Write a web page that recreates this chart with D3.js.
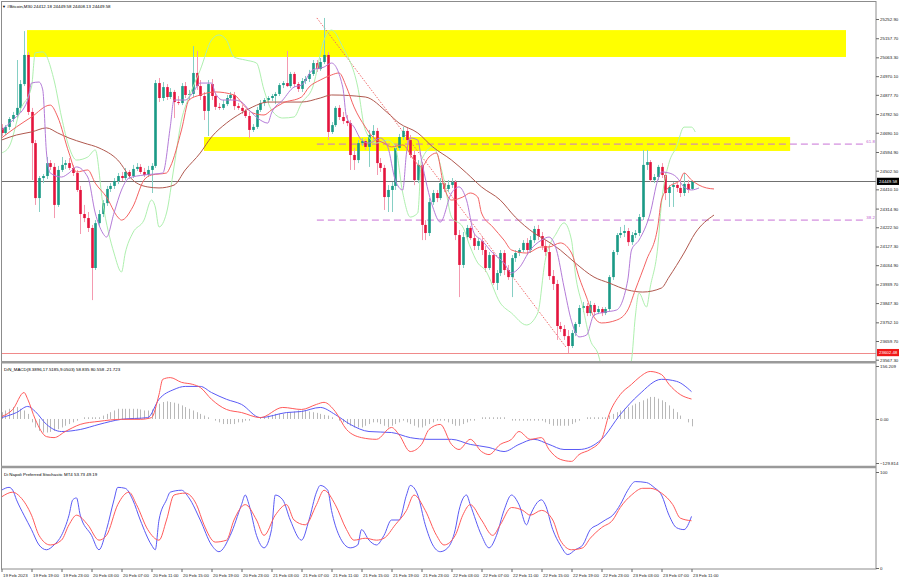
<!DOCTYPE html>
<html><head><meta charset="utf-8">
<script src="https://cdn.jsdelivr.net/npm/d3@7"></script>
<style>
body{margin:0;background:#fff}
svg{display:block}
text{font-family:"Liberation Sans",Arial,sans-serif}
</style>
</head><body>
<svg id="c" width="900" height="585"></svg>
<script>
// ---------------- DATA ----------------
const title = "#Bitcoin,M30  24412.18 24449.58 24408.13 24449.58";
const macdTitle = "DiN_MACD(8.3896,17.5185,9.0503) 58.835 80.558 -21.723";
const stochTitle = "Di Napoli Preferred Stochastic MT4 53.73 49.19";

const opens = [24714,24689,24719,24758,24778,24813,24931,25075,24793,24639,
24367,24466,24476,24540,24521,24333,24506,24531,24540,24516,
24491,24407,24288,24268,24219,24021,24243,24288,24342,24412,
24427,24451,24476,24466,24496,24476,24511,24521,24496,24481,
24506,24526,24936,24862,24916,24867,24892,24842,24837,24921,
24877,24882,24986,24921,24872,24798,24931,24872,24818,24813,
24832,24862,24877,24822,24813,24798,24773,24704,24719,24803,
24837,24852,24862,24872,24882,24926,24936,24921,24981,24931,
24907,24946,24956,24981,25035,25005,25040,25075,24694,24728,
24813,24768,24748,24738,24580,24555,24639,24649,24620,24679,
24699,24540,24516,24372,24407,24427,24615,24669,24699,24654,
24580,24456,24531,24234,24194,24347,24392,24367,24441,24412,
24432,24446,24184,24036,24174,24219,24169,24130,24154,24110,
24021,24085,23947,23996,24095,24011,23976,24070,24095,24110,
24145,24110,24159,24214,24179,24130,24100,23981,23942,23734,
23719,23684,23635,23699,23744,23823,23833,23798,23838,23803,
23818,23798,23818,23976,24100,24184,24194,24204,24149,24184,
24194,24273,24531,24545,24456,24471,24521,24481,24392,24422,
24432,24417,24392,24437,24412.18];
const highs = [24733,24728,24768,24793,25050,24951,25193,25090,24813,24654,
24476,24486,24570,24555,24540,24526,24570,24555,24565,24531,
24506,24427,24333,24298,24234,24258,24308,24357,24427,24441,
24466,24491,24496,24516,24506,24531,24540,24535,24516,24526,
24540,24951,24961,24941,24931,24911,24902,24872,24936,24941,
24902,25119,25095,24951,24892,24951,24956,24887,24837,24852,
24877,24892,24892,24837,24827,24808,24793,24733,24818,24852,
24862,24872,24882,24892,24936,24946,25095,24991,24991,24941,
24961,24971,25001,25050,25050,25060,25258,25090,24743,24822,
24827,24793,24778,24753,24615,24654,24664,24659,24704,24728,
24714,24565,24531,24431,24446,24630,24684,24719,24714,24679,
24605,24555,24545,24258,24367,24407,24407,24466,24456,24456,
24466,24456,24209,24199,24234,24229,24189,24169,24174,24130,
24100,24100,24011,24110,24110,24036,24085,24110,24120,24159,
24169,24179,24229,24234,24199,24159,24135,24011,23962,23754,
23739,23714,23714,23754,23838,23853,23848,23858,23848,23833,
23828,23828,23986,24110,24194,24224,24234,24219,24199,24209,
24288,24605,24605,24555,24486,24531,24540,24496,24432,24446,
24441,24456,24491,24456,24449.58];
const lows = [24674,24679,24704,24743,24763,24793,24921,24778,24456,24333,
24298,24441,24461,24506,24268,24323,24496,24511,24506,24476,
24397,24189,24248,24199,23862,24011,24229,24273,24328,24397,
24412,24436,24451,24456,24461,24466,24501,24486,24471,24471,
24392,24516,24842,24847,24852,24857,24763,24827,24827,24862,
24852,24867,24902,24852,24753,24674,24852,24803,24803,24803,
24822,24852,24803,24803,24783,24763,24664,24694,24709,24793,
24822,24837,24847,24832,24872,24911,24916,24911,24916,24892,
24892,24931,24941,24971,24991,24996,25030,24654,24684,24719,
24753,24733,24723,24506,24506,24540,24625,24605,24521,24654,
24481,24496,24308,24298,24298,24407,24605,24654,24630,24565,
24431,24441,24159,24159,24179,24333,24347,24357,24397,24397,
24417,24159,23877,24021,24159,24159,24110,24110,24085,24001,
24011,23937,23912,23981,23986,23962,23877,24051,24080,24100,
24085,24095,24145,24159,24110,24080,23962,23912,23665,23704,
23665,23600,23625,23684,23729,23803,23783,23783,23783,23793,
23783,23788,23808,23962,24085,24169,24174,24130,24135,24169,
24179,24258,24506,24446,24441,24456,24466,24357,24323,24323,
24397,24372,24377,24392,24408.13];
const closes = [24689,24719,24758,24778,24813,24931,25075,24793,24639,24367,
24466,24476,24540,24521,24333,24506,24531,24540,24516,24491,
24407,24288,24268,24219,24021,24243,24288,24342,24412,24427,
24451,24476,24466,24496,24476,24511,24521,24496,24481,24506,
24526,24936,24862,24916,24867,24892,24842,24837,24921,24877,
24882,24986,24921,24872,24798,24931,24872,24818,24813,24832,
24862,24877,24822,24813,24798,24773,24704,24719,24803,24837,
24852,24862,24872,24882,24926,24936,24921,24981,24931,24907,
24946,24956,24981,25035,25005,25040,25075,24694,24728,24813,
24768,24748,24738,24580,24555,24639,24649,24620,24679,24699,
24540,24516,24372,24407,24427,24615,24669,24699,24654,24580,
24456,24531,24234,24194,24347,24392,24367,24441,24412,24432,
24446,24184,24036,24174,24219,24169,24130,24154,24110,24021,
24085,23947,23996,24095,24011,23976,24070,24095,24110,24145,
24110,24159,24214,24179,24130,24100,23981,23942,23734,23719,
23684,23635,23699,23744,23823,23833,23798,23838,23803,23818,
23798,23818,23976,24100,24184,24194,24204,24149,24184,24194,
24273,24531,24545,24456,24471,24521,24481,24392,24422,24432,
24417,24392,24437,24407,24449.58];

// moving-average style overlays, read as [bar index, price]
const maFast = [[0,24704],[3,24753],[7,24852],[8,24936],[10,24941],[11,24902],[12,24590],[13,24491],[16,24471],[18,24491],[20,24521],[23,24471],[25,24293],[27,24194],[28,24174],[30,24293],[32,24407],[34,24466],[38,24481],[43,24491],[45,24719],[46,24852],[49,24852],[51,24887],[53,24936],[56,24936],[57,24887],[59,24852],[62,24852],[64,24842],[66,24803],[69,24753],[71,24738],[72,24788],[75,24852],[78,24916],[80,24926],[83,25001],[86,25015],[88,25035],[91,24916],[92,24768],[94,24719],[96,24654],[98,24639],[101,24664],[103,24620],[105,24456],[107,24407],[108,24590],[109,24664],[111,24654],[112,24555],[115,24323],[117,24248],[120,24392],[122,24422],[124,24357],[126,24194],[128,24159],[131,24095],[134,24046],[136,23996],[138,24021],[141,24110],[144,24159],[146,24174],[148,24110],[150,23927],[152,23758],[154,23680],[156,23689],[158,23788],[161,23803],[164,23813],[167,23961],[168,24110],[170,24159],[173,24293],[175,24456],[176,24496],[178,24491],[180,24471],[182,24422],[184,24407],[186,24417]];
const maMid = [[0,24664],[4,24719],[8,24768],[13,24827],[15,24768],[18,24590],[20,24496],[23,24506],[25,24441],[28,24372],[31,24273],[32,24258],[35,24323],[38,24456],[40,24481],[44,24491],[45,24521],[48,24704],[50,24852],[53,24877],[57,24892],[62,24877],[65,24818],[67,24788],[70,24778],[72,24803],[75,24837],[80,24867],[82,24916],[85,24951],[88,24976],[90,24986],[92,24916],[94,24818],[97,24719],[99,24669],[102,24639],[104,24620],[107,24630],[110,24555],[112,24521],[114,24570],[116,24590],[118,24422],[120,24357],[123,24372],[125,24392],[127,24372],[128,24293],[131,24224],[134,24159],[136,24110],[140,24095],[144,24125],[146,24125],[149,24145],[152,24095],[154,23976],[156,23877],[158,23778],[160,23749],[164,23763],[167,23813],[169,23912],[172,24060],[175,24224],[176,24357],[178,24422],[181,24456],[182,24491],[184,24456],[186,24431],[188,24417],[190,24412]];
const maSlow = [[0,24654],[4,24679],[8,24694],[12,24714],[15,24689],[18,24664],[22,24639],[26,24615],[31,24555],[35,24456],[39,24422],[42,24417],[46,24431],[49,24506],[53,24590],[56,24669],[60,24738],[64,24788],[67,24818],[71,24842],[75,24842],[80,24842],[85,24862],[88,24877],[97,24867],[103,24788],[106,24738],[111,24689],[115,24620],[120,24555],[124,24491],[128,24422],[133,24357],[137,24273],[142,24194],[146,24149],[149,24110],[153,24046],[158,23976],[162,23947],[167,23912],[171,23902],[176,23922],[178,23976],[182,24095],[185,24194],[190,24283]];
const envelope = [[0,24590],[2,24620],[5,24803],[8,24916],[9,25085],[11,25090],[14,24951],[16,24768],[18,24620],[20,24555],[23,24570],[25,24605],[27,24342],[30,24095],[32,24001],[33,24095],[35,24194],[38,24258],[40,24357],[41,24323],[42,24224],[44,24293],[46,24521],[48,24753],[50,24867],[53,25001],[56,25149],[58,25174],[60,25149],[62,25065],[65,25050],[68,25035],[70,24902],[72,24803],[75,24763],[78,24768],[80,24837],[83,24916],[86,25149],[88,25198],[91,25114],[95,24916],[97,24704],[100,24639],[103,24654],[105,24620],[107,24392],[109,24273],[111,24293],[112,24555],[115,24620],[118,24456],[120,24273],[123,24224],[125,24125],[127,24046],[129,24011],[133,23848],[136,23798],[140,23739],[143,23798],[145,24060],[148,24194],[150,24244],[152,24159],[153,23996],[155,23828],[157,23665],[159,23600],[161,23467],[165,23417],[168,23566],[169,23778],[170,23897],[172,23828],[173,23927],[175,24125],[176,24342],[178,24541],[180,24620],[182,24718],[184,24718],[185,24694]];

// drawn objects (bar index / price)
const zoneStart = [6.8, 54];
const zoneEnd = [225.2, 210.3];
const zoneTop = [25198, 24669];
const zoneBottom = [25065, 24600];
const fibLevels = [24634, 24258];
const fibNames = ["61.8", "38.2"];
const fibStart = 84.1, fibEnd = 230.5;
const trendFrom = [84.1, 25258], trendTo = [150.5, 23630];
const lastPrice = 24449.58;
const supportPrice = 23602.48;

// MACD panel
const macdLine = [[0,7],[3,28],[6,78],[7,58],[9,-1],[12,-52],[14,-55],[17,-37],[21,-16],[26,-7],[32,-1],[37,-1],[40,4],[42,72],[43,117],[45,122],[48,108],[51,102],[53,93],[56,58],[60,28],[64,19],[69,4],[75,34],[80,28],[84,43],[86,49],[89,22],[92,-31],[96,-55],[100,-60],[104,-25],[106,-46],[109,-96],[112,-75],[114,-31],[117,-16],[120,-75],[122,-90],[125,-60],[128,-96],[130,-105],[133,-75],[136,-60],[138,-37],[141,-60],[144,-55],[146,-90],[149,-119],[152,-125],[154,-105],[157,-90],[160,-60],[162,13],[165,72],[168,102],[170,122],[173,140],[176,131],[178,102],[181,72],[184,58.835]];
const macdSignal = [[0,4],[4,19],[7,37],[9,22],[12,-16],[16,-37],[21,-31],[26,-16],[32,-1],[39,4],[42,58],[46,87],[49,96],[53,96],[56,78],[60,58],[64,43],[69,4],[76,19],[80,22],[85,34],[89,13],[93,-16],[98,-37],[104,-40],[109,-55],[114,-60],[120,-60],[125,-75],[130,-84],[134,-96],[138,-75],[142,-60],[146,-75],[150,-90],[154,-90],[160,-60],[165,13],[170,72],[176,117],[180,111],[184,80.558]];
const macdHist = [20,25,30,35,35,30,25,15,
-10,-25,-35,-40,-40,-38,-35,-30,-25,-20,-15,
-10,-5,0,5,5,5,5,5,
10,15,20,25,30,30,30,30,30,30,28,25,25,28,
35,45,50,52,50,48,45,40,35,30,25,20,
15,10,5,0,-5,-10,-15,-15,-15,-15,-10,-10,-5,-5,0,0,5,5,
10,12,15,15,15,18,20,22,25,25,25,22,20,18,15,12,10,5,0,-5,
-10,-15,-20,-25,-25,-25,-20,-15,-10,-10,-15,-20,-25,-20,-15,-10,-5,-10,-15,-20,
-25,-25,-20,-15,-10,-5,-5,-5,-10,-15,-20,-20,-15,-10,-5,-5,0,5,5,5,
5,5,5,5,0,-5,-5,-5,-5,-5,-5,-5,-5,-5,-10,-15,-20,-20,-20,-20,
-20,-15,-10,-5,0,5,5,5,5,5,5,10,15,20,25,30,35,40,45,50,
55,60,65,65,60,55,50,40,30,20,10,0,-10,-21.723];
const macdTicks = [156.209, 0, -129.814];

// Stochastic panel
const stochK = [[0,81],[2,84],[3,81],[4,71],[6,55],[8,40],[10,24],[12,19],[14,24],[16,34],[18,55],[19,71],[20,73],[21,55],[24,34],[26,19],[28,40],[30,71],[31,84],[33,83],[35,71],[37,50],[40,24],[41,19],[42,50],[44,71],[45,79],[48,81],[50,73],[53,50],[56,24],[58,17],[61,34],[64,66],[65,76],[66,66],[68,34],[70,21],[72,40],[73,76],[75,71],[77,50],[80,29],[82,50],[84,79],[85,86],[87,81],[88,60],[90,34],[93,21],[95,24],[96,40],[98,29],[100,24],[102,34],[104,50],[106,50],[108,76],[109,86],[111,76],[113,45],[115,24],[117,17],[119,21],[121,40],[122,60],[124,76],[125,66],[128,34],[130,21],[132,34],[134,60],[136,76],[138,66],[140,45],[141,55],[144,71],[145,66],[147,40],[149,24],[151,14],[153,19],[155,24],[157,40],[159,45],[161,50],[163,55],[165,66],[167,81],[169,90],[172,89],[174,84],[176,76],[178,55],[180,42],[182,40],[184,53.73]];
const stochD = [[0,74],[3,79],[5,74],[8,55],[10,34],[13,24],[16,29],[18,45],[20,55],[23,45],[26,29],[28,34],[31,66],[34,79],[36,66],[39,40],[42,29],[44,50],[46,76],[49,78],[52,66],[54,45],[57,27],[60,29],[62,50],[65,66],[68,50],[70,34],[73,55],[76,66],[78,50],[81,45],[84,66],[86,81],[89,66],[92,40],[94,29],[97,31],[100,29],[102,31],[105,45],[108,60],[110,76],[113,60],[116,34],[118,24],[121,34],[123,55],[125,66],[128,50],[131,34],[133,45],[136,63],[139,60],[141,55],[144,60],[147,50],[149,29],[152,19],[155,21],[157,31],[160,42],[163,50],[165,63],[168,76],[171,83],[173,83],[176,78],[179,66],[181,52],[184,49.19]];
const stochTicks = [100, 0];

const priceTicks = [25252.90,25157.70,25063.30,24970.10,24877.70,24782.50,24690.10,24594.90,24502.50,24410.10,24314.90,24222.50,24127.30,24034.90,23939.70,23847.30,23752.10,23659.70,23567.30];
const timeTickIdx = [0,8,16,24,32,40,48,56,64,72,80,88,96,104,112,120,128,136,144,152,160,168,176,184];
const timeLabels = ["19 Feb 2023","19 Feb 19:00","19 Feb 23:00","20 Feb 03:00","20 Feb 07:00","20 Feb 11:00","20 Feb 15:00","20 Feb 19:00","20 Feb 23:00","21 Feb 03:00","21 Feb 07:00","21 Feb 11:00","21 Feb 15:00","21 Feb 19:00","21 Feb 23:00","22 Feb 03:00","22 Feb 07:00","22 Feb 11:00","22 Feb 15:00","22 Feb 19:00","22 Feb 23:00","23 Feb 03:00","23 Feb 07:00","23 Feb 11:00"];

// ---------------- DRAWING ----------------
const svg = d3.select("#c");
const R = 876, L = 1;
const mainTop = 2, mainBot = 361, macdTop = 363.5, macdBot = 465.5, stTop = 468.5, stBot = 569;
const FS = 4.4;

const x = d3.scaleLinear().domain([0, 233.2]).range([1.5, R]);
const y = d3.scaleLinear().domain([23560.8, 25337.0]).range([mainBot, mainTop]);
const ym = d3.scaleLinear().domain([-129.814, 156.209]).range([463, 366]);
const ys = d3.scaleLinear().domain([0, 100]).range([568, 472]);

svg.append("rect").attr("width",900).attr("height",585).attr("fill","#fff");

const defs = svg.append("defs");
defs.append("clipPath").attr("id","cm").append("rect").attr("x",L).attr("y",mainTop).attr("width",R-L).attr("height",mainBot-mainTop);
defs.append("clipPath").attr("id","cd").append("rect").attr("x",L).attr("y",macdTop).attr("width",R-L).attr("height",macdBot-macdTop);
defs.append("clipPath").attr("id","cs").append("rect").attr("x",L).attr("y",stTop).attr("width",R-L).attr("height",stBot-stTop);

const gMain = svg.append("g").attr("clip-path","url(#cm)");

// zones
gMain.selectAll("rect.zone").data(zoneStart).join("rect").attr("class","zone")
  .attr("x",(d,i)=>x(d)).attr("width",(d,i)=>x(zoneEnd[i])-x(d))
  .attr("y",(d,i)=>y(zoneTop[i])).attr("height",(d,i)=>y(zoneBottom[i])-y(zoneTop[i]))
  .attr("fill","#ffff00");

// horizontal lines
gMain.append("line").attr("x1",L).attr("x2",R).attr("y1",Math.round(y(lastPrice))+0.5).attr("y2",Math.round(y(lastPrice))+0.5)
  .attr("stroke","#707070").attr("stroke-width",1);
gMain.append("line").attr("x1",L).attr("x2",R).attr("y1",Math.round(y(supportPrice))+0.5).attr("y2",Math.round(y(supportPrice))+0.5)
  .attr("stroke","#f08a8a").attr("stroke-width",1);

// fib dashed levels
fibLevels.forEach((lv,i)=>{
  gMain.append("line").attr("x1",x(fibStart)).attr("x2",x(fibEnd)).attr("y1",y(lv)).attr("y2",y(lv))
    .attr("stroke","#c873d6").attr("stroke-width",1).attr("stroke-dasharray","7,4");
  gMain.append("text").attr("x",x(232.9)).attr("y",y(lv)-1).attr("text-anchor","end")
    .attr("font-size",FS).attr("fill","#c060d0").text(fibNames[i]);
});

// trendline
gMain.append("line").attr("x1",x(trendFrom[0])).attr("y1",y(trendFrom[1])).attr("x2",x(trendTo[0])).attr("y2",y(trendTo[1]))
  .attr("stroke","#f06a6a").attr("stroke-width",1).attr("stroke-dasharray","1.5,1.5");

// candles
const idx = d3.range(closes.length);
const up = i => closes[i] >= opens[i];
gMain.selectAll("line.wick").data(idx).join("line").attr("class","wick")
  .attr("x1",i=>Math.round(x(i))+0.5).attr("x2",i=>Math.round(x(i))+0.5)
  .attr("y1",i=>y(highs[i])).attr("y2",i=>y(lows[i]))
  .attr("stroke",i=>up(i)?"#86cfc4":"#f49ab0").attr("stroke-width",1);
gMain.selectAll("rect.body").data(idx).join("rect").attr("class","body")
  .attr("x",i=>Math.round(x(i))-0.8).attr("width",2.6)
  .attr("y",i=>y(Math.max(opens[i],closes[i])))
  .attr("height",i=>Math.max(1,Math.abs(y(opens[i])-y(closes[i]))))
  .attr("fill",i=>up(i)?"#1a9a86":"#e4143d");

// overlay lines
const lineMain = d3.line().x(d=>x(d[0])).y(d=>y(d[1])).curve(d3.curveMonotoneX);
[[envelope,"#aef0ae"],[maSlow,"#b0584e"],[maMid,"#f46262"],[maFast,"#b47bd8"]].forEach(([s,c])=>{
  gMain.append("path").attr("d",lineMain(s)).attr("fill","none").attr("stroke",c).attr("stroke-width",1);
});

// MACD panel
const gM = svg.append("g").attr("clip-path","url(#cd)");
gM.selectAll("line.h").data(idx).join("line").attr("class","h")
  .attr("x1",i=>Math.round(x(i))+0.5).attr("x2",i=>Math.round(x(i))+0.5)
  .attr("y1",ym(0)).attr("y2",i=>ym(macdHist[i]))
  .attr("stroke","#b8b8b8").attr("stroke-width",1);
const lineM = d3.line().x(d=>x(d[0])).y(d=>ym(d[1])).curve(d3.curveMonotoneX);
gM.append("path").attr("d",lineM(macdSignal)).attr("fill","none").attr("stroke","#5a5af5").attr("stroke-width",1);
gM.append("path").attr("d",lineM(macdLine)).attr("fill","none").attr("stroke","#ff5a5a").attr("stroke-width",1);

// Stochastic panel
const gS = svg.append("g").attr("clip-path","url(#cs)");
const lineS = d3.line().x(d=>x(d[0])).y(d=>ys(d[1])).curve(d3.curveMonotoneX);
gS.append("path").attr("d",lineS(stochK)).attr("fill","none").attr("stroke","#5a5af5").attr("stroke-width",1);
gS.append("path").attr("d",lineS(stochD)).attr("fill","none").attr("stroke","#ff5a5a").attr("stroke-width",1);

// frames
const fr = svg.append("g").attr("fill","none").attr("stroke","#8c8c8c");
fr.append("rect").attr("x",L+0.5).attr("y",mainTop-0.5).attr("width",R-L-0.5).attr("height",stBot-mainTop+0.5).attr("stroke-width",1);
fr.append("line").attr("x1",L).attr("x2",R).attr("y1",362.2).attr("y2",362.2).attr("stroke","#9a9a9a").attr("stroke-width",2.4);
fr.append("line").attr("x1",L).attr("x2",R).attr("y1",467).attr("y2",467).attr("stroke","#9a9a9a").attr("stroke-width",2.4);

// price axis
const axP = svg.append("g").attr("transform",`translate(${R},0)`)
  .call(d3.axisRight(y).tickValues(priceTicks).tickSize(3).tickPadding(1).tickFormat(d3.format(".2f")));
axP.select(".domain").remove();
axP.selectAll("text").attr("font-size",FS).attr("fill","#222");
axP.selectAll("line").attr("stroke","#666");

// macd axis
const axM = svg.append("g").attr("transform",`translate(${R},0)`)
  .call(d3.axisRight(ym).tickValues(macdTicks).tickSize(3).tickPadding(1).tickFormat(d=>d===0?"0.00":d3.format(".3f")(d)));
axM.select(".domain").remove();
axM.selectAll("text").attr("font-size",FS).attr("fill","#222");
axM.selectAll("line").attr("stroke","#666");

// stochastic axis
const axS = svg.append("g").attr("transform",`translate(${R},0)`)
  .call(d3.axisRight(ys).tickValues(stochTicks).tickSize(3).tickPadding(1).tickFormat(d3.format("d")));
axS.select(".domain").remove();
axS.selectAll("text").attr("font-size",FS).attr("fill","#222");
axS.selectAll("line").attr("stroke","#666");

// price boxes
function priceBox(p, fill){
  const yy = y(p);
  svg.append("rect").attr("x",R+1).attr("y",yy-3.6).attr("width",22).attr("height",7.2).attr("fill",fill);
  svg.append("text").attr("x",R+3).attr("y",yy+1.6).attr("font-size",FS).attr("fill","#fff").text(d3.format(".2f")(p));
}
priceBox(lastPrice,"#000");
priceBox(supportPrice,"#f01818");

// time axis
const axT = svg.append("g").attr("transform",`translate(0,${stBot})`)
  .call(d3.axisBottom(x).tickValues(timeTickIdx).tickSize(3).tickPadding(2).tickFormat((d,i)=>timeLabels[i]));
axT.select(".domain").remove();
axT.selectAll("text").attr("font-size",FS).attr("fill","#222").attr("text-anchor","start").attr("dx","1");
axT.selectAll("line").attr("stroke","#666");

// titles
svg.append("text").attr("x",2).attr("y",8).attr("font-size",4).attr("fill","#000").text("\u25BC");
svg.append("text").attr("x",7).attr("y",8).attr("font-size",FS).attr("fill","#000").text(title);
svg.append("text").attr("x",4).attr("y",370.5).attr("font-size",FS).attr("fill","#000").text(macdTitle);
svg.append("text").attr("x",4).attr("y",475.5).attr("font-size",FS).attr("fill","#000").text(stochTitle);
</script>
</body></html>
